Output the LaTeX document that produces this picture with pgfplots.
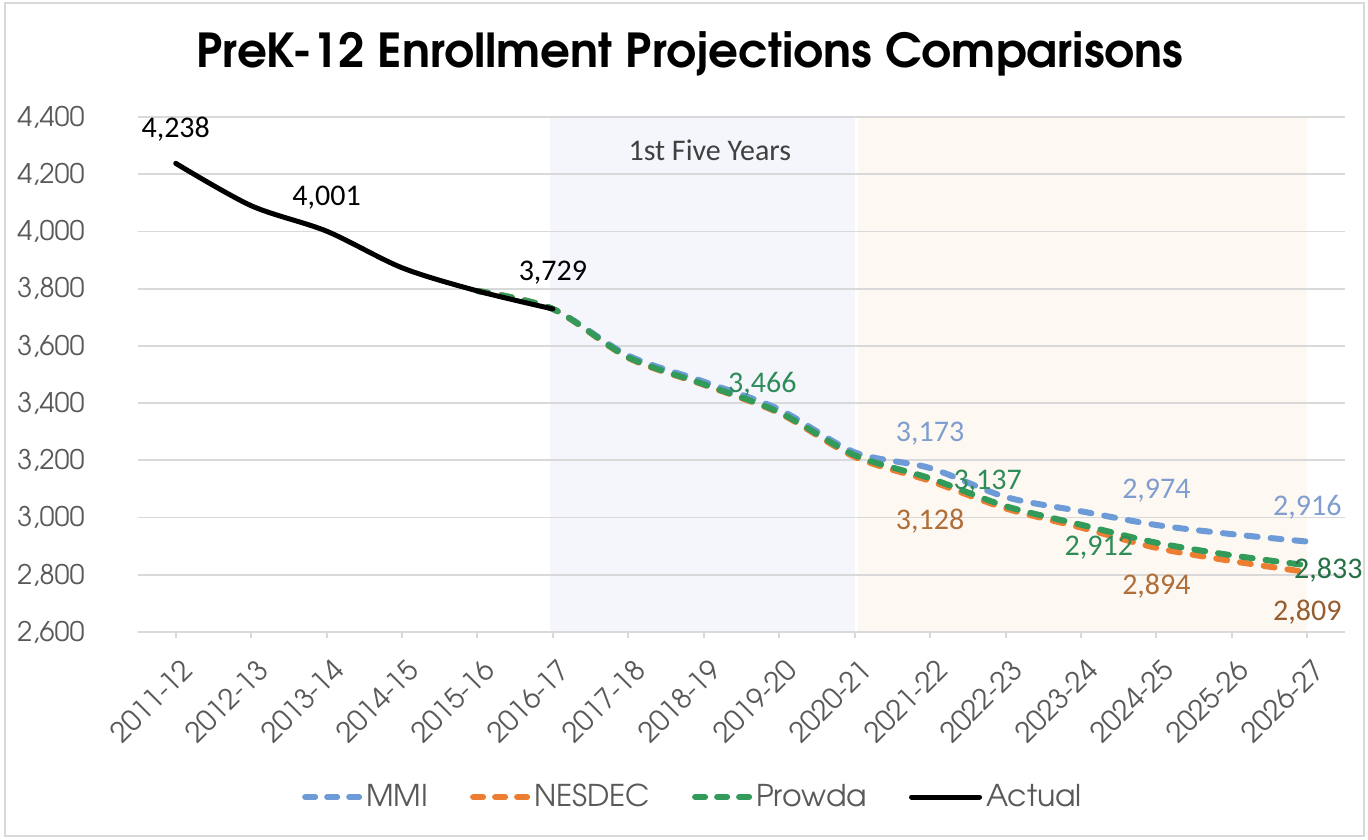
\documentclass[border=0pt]{standalone}
\usepackage{fontspec}
\setmainfont{TeX Gyre Adventor}
\newfontfamily\carlito{Carlito}
\usepackage{pgfplots}
\pgfplotsset{compat=1.18}

\definecolor{gridc}{RGB}{217,217,217}
\definecolor{tickc}{RGB}{89,89,89}
\definecolor{mmi}{RGB}{108,155,216}
\definecolor{nes}{RGB}{237,125,49}
\definecolor{pro}{RGB}{50,155,90}
\definecolor{mmil}{RGB}{127,158,207}
\definecolor{nesl}{RGB}{176,110,56}
\definecolor{prol}{RGB}{46,140,88}
\definecolor{shb}{RGB}{244,246,251}
\definecolor{sho}{RGB}{254,248,243}
\definecolor{txt}{RGB}{64,64,64}

\pgfplotsset{
 dashleg/.style={legend image code/.code={\draw[##1, dash pattern=on 5pt off 6pt] (1.5pt,0pt)--(28.5pt,0pt);}},
 solleg/.style={legend image code/.code={\draw[##1] (0pt,0pt)--(34pt,0pt);}},
 proj/.style={line width=3pt, dash pattern=on 5.5pt off 6.5pt, line cap=round, smooth, dashleg},
}

\begin{document}
\begin{tikzpicture}
\path (0,0) rectangle (684pt,419.5pt);
\draw[gridc, line width=1pt] (2.5pt,1.5pt) rectangle (682pt,418pt);
\node[font=\bfseries\fontsize{23.4}{28}\selectfont] at (345pt,392.5pt) {PreK-12 Enrollment Projections Comparisons};
\begin{axis}[
 set layers,
 at={(69pt,103.5pt)}, anchor=south west,
 scale only axis, width=603.5pt, height=257.5pt,
 xmin=-0.5, xmax=15.5, ymin=2600, ymax=4400,
 ytick={2600,2800,...,4400},
 xtick={0,...,15},
 xticklabels={2011-12,2012-13,2013-14,2014-15,2015-16,2016-17,2017-18,2018-19,2019-20,2020-21,2021-22,2022-23,2023-24,2024-25,2025-26,2026-27},
 axis x line*=bottom, axis y line*=left,
 y axis line style={draw=none},
 x axis line style={draw=gridc, line width=1pt, -},
 tick align=outside, major tick length=3pt,
 xtick style={draw=gridc, line width=1pt},
 ytick style={draw=none},
 ymajorgrids, grid style={draw=gridc, line width=0.9pt},
 scaled y ticks=false,
 /pgf/number format/fixed, /pgf/number format/1000 sep={,}, /pgf/number format/assume math mode=true,
 yticklabel style={font=\fontsize{13.5}{15}\selectfont, text=tickc, anchor=east, inner sep=0pt, xshift=-23.5pt},
 xticklabel style={font=\fontsize{14}{16}\selectfont, text=tickc, inner sep=0pt, xshift=2pt, yshift=-9.5pt, rotate=45, anchor=north east},
 legend columns=4,
 legend style={at={(0.4607,-0.3204)}, anchor=center, draw=none, fill=none,
   font=\fontsize{15}{17}\selectfont, text=tickc,
   /tikz/every even column/.append style={column sep=19pt}},
 legend cell align=left,
 clip=false,
]
\addplot[fill=shb, draw=none, on layer=axis background, forget plot]
 coordinates {(4.96,2600)(4.96,4400)(9.0,4400)(9.0,2600)} -- cycle;
\addplot[fill=sho, draw=none, on layer=axis background, forget plot]
 coordinates {(9.04,2600)(9.04,4400)(15.0,4400)(15.0,2600)} -- cycle;

\addplot[mmi, proj]
 coordinates {(4,3792)(5,3729)(6,3566)(7,3475)(8,3378)(9,3228)(10,3173)(11,3072)(12,3022)(13,2974)(14,2942)(15,2916)};
\addlegendentry{MMI}
\addplot[nes, proj]
 coordinates {(4,3792)(5,3729)(6,3558)(7,3464)(8,3365)(9,3212)(10,3128)(11,3032)(12,2965)(13,2894)(14,2848)(15,2809)};
\addlegendentry{NESDEC}
\addplot[pro, proj]
 coordinates {(4,3792)(5,3729)(6,3560)(7,3466)(8,3368)(9,3218)(10,3137)(11,3040)(12,2975)(13,2912)(14,2868)(15,2833)};
\addlegendentry{Prowda}
\addplot[black, line width=2.5pt, line cap=round, smooth, solleg]
 coordinates {(0,4238)(1,4090)(2,4001)(3,3873)(4,3792)(5,3729)};
\addlegendentry{Actual}

\begin{scope}[every node/.style={font=\carlito\fontsize{15}{17}\selectfont, inner sep=0pt}]
\node[text=txt] at (axis cs:7.08,4285) {1st Five Years};
\node[black] at ([yshift=17pt]axis cs:0,4238) {4,238};
\node[black] at ([yshift=16.5pt]axis cs:2,4001) {4,001};
\node[black] at ([yshift=18pt]axis cs:5,3729) {3,729};
\node[prol, anchor=west] at ([xshift=12pt]axis cs:7,3466) {3,466};
\node[mmil] at ([yshift=17pt]axis cs:10,3173) {3,173};
\node[nesl] at ([yshift=-20pt]axis cs:10,3128) {3,128};
\node[prol, anchor=west] at ([xshift=11.5pt, yshift=-1.5pt]axis cs:10,3137) {3,137};
\node[mmil] at ([yshift=17pt]axis cs:13,2974) {2,974};
\node[nesl] at ([yshift=-19pt]axis cs:13,2894) {2,894};
\node[prol, anchor=east] at ([xshift=-11.5pt, yshift=-2.5pt]axis cs:13,2912) {2,912};
\node[mmil] at ([yshift=17pt]axis cs:15,2916) {2,916};
\node[prol!80!black] at ([xshift=10.5pt, yshift=-2.5pt]axis cs:15,2833) {2,833};
\node[nesl!85!black] at ([yshift=-20pt]axis cs:15,2809) {2,809};
\end{scope}
\end{axis}
\end{tikzpicture}
\end{document}
